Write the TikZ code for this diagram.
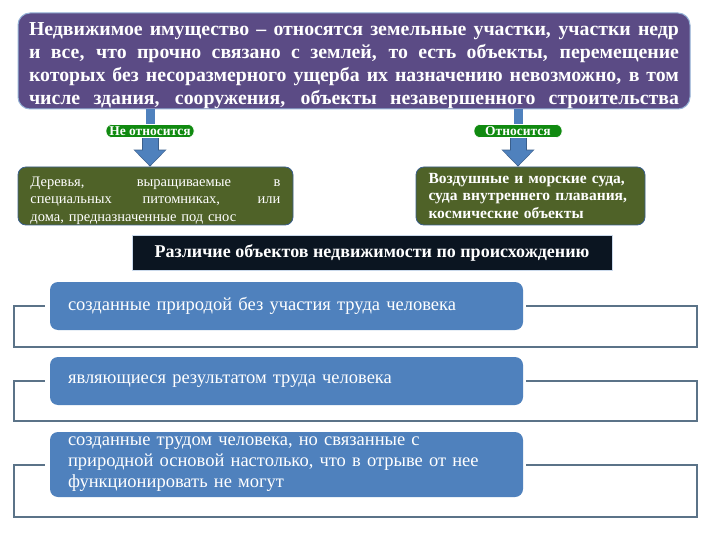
\documentclass[tikz,border=0pt]{standalone}
\usepackage{fontspec}
\setmainfont{Liberation Serif}
\usetikzlibrary{arrows.meta,positioning,calc}
\definecolor{lila}{HTML}{5B4B85}
\definecolor{olive}{HTML}{4F6228}
\definecolor{steel}{HTML}{4F81BD}
\definecolor{steeldark}{HTML}{3A5F8C}
\definecolor{pillgreen}{HTML}{108A10}
\definecolor{night}{HTML}{0B1521}
\definecolor{slate}{HTML}{5B7388}
\newcommand\fullline[2]{\makebox[#1][s]{\spaceskip=0pt\xspaceskip=0pt #2}}
\begin{document}
\begin{tikzpicture}[x=1pt,y=-1pt,
    topbox/.style={fill=lila,draw=steel!60,line width=1pt,rounded corners=12pt},
    greenbox/.style={fill=olive,draw=steeldark,line width=.8pt,rounded corners=8pt,text=white,
        font=\fontsize{14.5}{17.5}\selectfont,align=left,inner sep=0pt},
    pill/.style={fill=pillgreen,draw=white,line width=.6pt,rounded corners=6pt,text=white,
        font=\fontsize{13.5}{13.5}\selectfont\bfseries,minimum width=88,minimum height=13,inner sep=0pt},
    bluebox/.style={fill=steel,rounded corners=8pt,text=white,minimum width=473,
        font=\fontsize{18.5}{21}\selectfont,align=left,text width=437,inner xsep=18pt,inner ysep=0pt},
    frame/.style={draw=slate,line width=2pt},
    stem/.style={draw=steel,line width=9pt}]
\useasboundingbox[fill=white] (0,0) rectangle (720,540);
\coordinate (L) at (14,0);
\coordinate (R) at (697,0);
\node[topbox,minimum width=672,minimum height=96] (main) at (354,61) {};
\node[text=white,font=\fontsize{19.8}{23}\selectfont\bfseries,align=left,text width=650,inner sep=0pt] (maintext) at (354,66)
    {\fullline{650pt}{Недвижимое имущество – относятся земельные участки, участки недр}\\
     \fullline{650pt}{и все, что прочно связано с землей, то есть объекты, перемещение}\\
     \fullline{650pt}{которых без несоразмерного ущерба их назначению невозможно, в том}\\
     \fullline{650pt}{числе здания, сооружения, объекты незавершенного строительства}};
\node[pill] (no) at (150,131) {Не относится};
\node[pill] (yes) at (518,131) {Относится};
\node[greenbox,minimum width=275,minimum height=58,text width=250] (trees) at (155.5,196)
    {\fullline{250pt}{\rule{0pt}{19pt}Деревья, выращиваемые в}\\
     \fullline{250pt}{специальных питомниках, или}\\
     дома, предназначенные под снос};
\node[greenbox,minimum width=229,minimum height=58,text width=204,font=\fontsize{15.5}{17.5}\selectfont\bfseries] (ships) at (530.5,196)
    {Воздушные и морские суда,\\ суда внутреннего плавания,\\ космические объекты};
\draw[stem] (main.south -| no) -- (no.north);
\draw[stem] (main.south -| yes) -- (yes.north);
\foreach \p/\q in {no/trees,yes/ships}{
    \draw[steeldark,line width=17pt,-{Triangle[width=32pt,length=17pt]}] (\p.south) -- (\p.south |- \q.north);
    \draw[steel,line width=15pt,-{Triangle[width=29pt,length=15pt]}] (\p.south) -- ([yshift=1.2pt]\p.south |- \q.north);
}
\node[fill=night,draw=steel!30,line width=1pt,text=white,minimum width=480,minimum height=35,
    font=\fontsize{18}{18}\selectfont\bfseries] (kinds) at (372,252.5)
    {Различие объектов недвижимости по происхождению};
\node[bluebox,minimum height=48] (nature) at (286.5,306) {созданные природой без участия труда человека};
\node[bluebox,minimum height=48] (labour) at (286.5,381) {являющиеся результатом труда человека};
\node[bluebox,minimum height=65] (mixed) at (286.5,464.5)
    {созданные трудом человека, но связанные с\\
     природной основой настолько, что в отрыве от нее\\
     функционировать не могут};
\foreach \b/\d in {nature/17,labour/16,mixed/20}
    \draw[frame] ($(\b.west)+(-5,0)$) -| ($(\b.south -| L)+(0,\d)$) -| (\b.east -| R) -- ($(\b.east)+(3,0)$);
\end{tikzpicture}
\end{document}
